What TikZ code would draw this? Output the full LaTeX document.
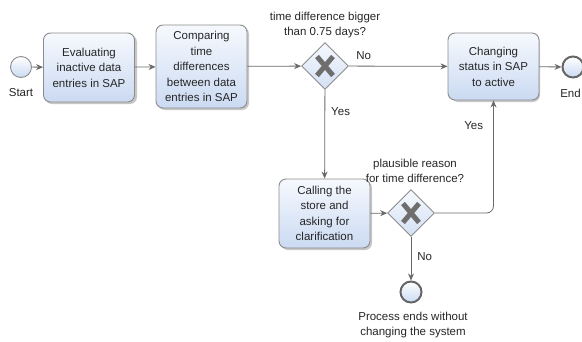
\documentclass[tikz,border=0pt]{standalone}
\usepackage{fontspec}
\setmainfont{Liberation Sans}
\usetikzlibrary{shapes.geometric,arrows.meta,calc}
\definecolor{lineg}{HTML}{6A6A6A}
\definecolor{bordg}{HTML}{8C8C8C}
\definecolor{boxtop}{HTML}{F6F9FE}
\definecolor{boxbot}{HTML}{CBDAF2}
\definecolor{xg}{HTML}{6E6E6E}
\begin{document}
\begin{tikzpicture}[x=1pt,y=-1pt,
  every node/.style={font=\fontsize{11.5}{15.5}\selectfont, text=black!85},
  task/.style={draw=bordg, line width=0.9pt, rounded corners=7pt, top color=boxtop, bottom color=boxbot,
    align=center, inner sep=0pt, minimum width=91pt},
  gate/.style={diamond, draw=bordg, line width=0.9pt, top color=boxtop, bottom color=boxbot!85, minimum width=47pt, minimum height=47pt, inner sep=0pt},
  startev/.style={circle, draw=bordg, line width=0.9pt, top color=white, bottom color=boxbot, minimum size=21pt, inner sep=0pt},
  endev/.style={circle, draw=black!60, line width=2pt, top color=white, bottom color=boxbot, minimum size=21pt, inner sep=0pt},
  flow/.style={draw=lineg, line width=0.8pt, -{Stealth[length=7pt,width=6pt]}},
  lbl/.style={align=center, inner sep=0pt},
  shadowbox/.style={fill=black!22, rounded corners=7pt, draw=none},
  xmark/.style={xg, line width=5pt}
]
\useasboundingbox (0,0) rectangle (582,341);
% shadows
\fill[shadowbox] (45,35) rectangle (137,104);
\fill[shadowbox] (158,27) rectangle (249,110);
\fill[shadowbox] (451,35) rectangle (540,102);
\fill[shadowbox] (281,181) rectangle (372,250);

\node[startev] (start) at (21,67) {};
\node[lbl] (startl) at (21,93) {Start};
\node[task, minimum height=69pt] (b1) at (89,67.5) {Evaluating\\inactive data\\entries in SAP};
\node[task, minimum height=83pt] (b2) at (201.5,66.5) {Comparing\\time\\differences\\between data\\entries in SAP};
\node[gate] (g1) at (325,66) {};
\draw[xmark] ($(g1)+(-8,-9.5)$) -- ($(g1)+(8,9.5)$) ($(g1)+(8,-9.5)$) -- ($(g1)+(-8,9.5)$);
\node[lbl] (g1l) at (325,25) {time difference bigger\\than 0.75 days?};
\node[task, minimum height=67pt] (b3) at (493.5,66.5) {Changing\\status in SAP\\to active};
\node[endev] (end) at (573,67) {};
\node[lbl] (endl) at (570.5,93) {End};
\node[task, minimum height=69pt] (b4) at (324.5,213.5) {Calling the\\store and\\asking for\\clarification};
\node[gate] (g2) at (411,213) {};
\draw[xmark] ($(g2)+(-8,-9.5)$) -- ($(g2)+(8,9.5)$) ($(g2)+(8,-9.5)$) -- ($(g2)+(-8,9.5)$);
\node[lbl] (g2l) at (415,171) {plausible reason\\for time difference?};
\node[endev] (end2) at (411,292) {};
\node[lbl] (end2l) at (413,325) {Process ends without\\changing the system};

\draw[flow] (start) -- (b1);
\draw[flow] (b1) -- (b2);
\draw[flow] (b2) -- (g1);
\draw[flow] (g1) -- node[lbl, pos=0.15, above=6pt] (no1) {No} (b3);
\draw[flow] (b3) -- (end);
\draw[flow] (g1) -- node[lbl, pos=0.25, right=6pt] (yes1) {Yes} (b4);
\draw[flow] (b4) -- (g2);
\draw[flow, rounded corners=7pt] (g2.east) -| node[lbl, pos=0.89, left=10pt] (yes2) {Yes} (b3.south);
\draw[flow] (g2) -- node[lbl, pos=0.45, right=6pt] (no2) {No} (end2);
\end{tikzpicture}
\end{document}
